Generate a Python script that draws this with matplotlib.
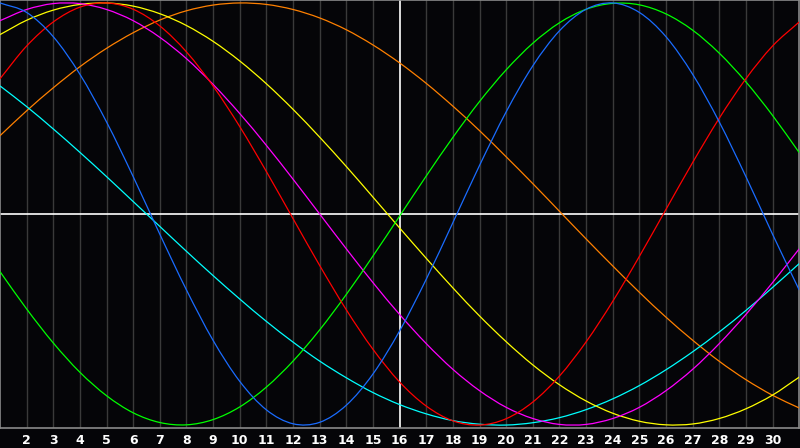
import matplotlib
matplotlib.use("Agg")
import matplotlib.pyplot as plt
from matplotlib.path import Path
from matplotlib.patches import PathPatch

days = list(range(1, 32))
tick_days = list(range(2, 31))
tick_labels = [str(d) for d in tick_days]

blue = [1.000, 0.955, 0.840, 0.662, 0.436, 0.177, -0.096, -0.360, -0.599, -0.793,
        -0.928, -0.994, -0.987, -0.906, -0.758, -0.554, -0.309, -0.041, 0.230, 0.484,
        0.702, 0.868, 0.970, 1.000, 0.955, 0.840, 0.662, 0.436, 0.177, -0.096, -0.360]
red = [0.641, 0.796, 0.910, 0.980, 1.000, 0.970, 0.891, 0.768, 0.606, 0.414,
       0.201, -0.022, -0.244, -0.454, -0.641, -0.796, -0.910, -0.980, -1.000, -0.970,
       -0.891, -0.768, -0.606, -0.414, -0.201, 0.022, 0.244, 0.454, 0.641, 0.796, 0.910]
green = [-0.273, -0.450, -0.611, -0.750, -0.861, -0.942, -0.988, -0.999, -0.974, -0.914,
         -0.820, -0.697, -0.549, -0.381, -0.199, -0.010, 0.180, 0.363, 0.533, 0.683,
         0.809, 0.906, 0.970, 0.998, 0.991, 0.948, 0.871, 0.762, 0.626, 0.467, 0.291]
yellow = [0.850, 0.918, 0.966, 0.993, 1.000, 0.985, 0.949, 0.893, 0.818, 0.725,
          0.617, 0.496, 0.364, 0.225, 0.080, -0.066, -0.210, -0.350, -0.483, -0.605,
          -0.715, -0.809, -0.886, -0.944, -0.982, -0.999, -0.995, -0.969, -0.923, -0.858, -0.773]
magenta = [0.916, 0.969, 0.997, 0.997, 0.969, 0.916, 0.837, 0.736, 0.614, 0.476,
           0.325, 0.165, 0.000, -0.165, -0.325, -0.476, -0.614, -0.736, -0.837, -0.916,
           -0.969, -0.997, -0.997, -0.969, -0.916, -0.837, -0.736, -0.614, -0.476, -0.325, -0.165]
cyan = [0.607, 0.509, 0.403, 0.292, 0.177, 0.059, -0.059, -0.177, -0.292, -0.403,
        -0.509, -0.607, -0.697, -0.776, -0.846, -0.903, -0.947, -0.979, -0.996, -1.000,
        -0.989, -0.965, -0.927, -0.876, -0.813, -0.738, -0.653, -0.559, -0.457, -0.348, -0.235]
orange = [0.371, 0.489, 0.598, 0.698, 0.785, 0.859, 0.919, 0.963, 0.990, 1.000,
          0.993, 0.969, 0.929, 0.873, 0.801, 0.716, 0.619, 0.511, 0.395, 0.271,
          0.144, 0.013, -0.118, -0.246, -0.371, -0.489, -0.598, -0.698, -0.785, -0.859, -0.919]

series = [
    (orange, "#ff8000"),
    (cyan, "#00ffff"),
    (yellow, "#ffff00"),
    (magenta, "#ff00ff"),
    (green, "#00ff00"),
    (red, "#ff0000"),
    (blue, "#1a6cff"),
]


def smooth_path(xs, ys):
    """Catmull-Rom curve through the data points, as cubic Bezier segments."""
    n = len(xs)
    ex = [2 * xs[0] - xs[1]] + list(xs) + [2 * xs[-1] - xs[-2]]
    ey = [2 * ys[0] - ys[1]] + list(ys) + [2 * ys[-1] - ys[-2]]
    verts = [(xs[0], ys[0])]
    codes = [Path.MOVETO]
    for i in range(1, n):
        x0, y0 = ex[i - 1], ey[i - 1]
        x1, y1 = ex[i], ey[i]
        x2, y2 = ex[i + 1], ey[i + 1]
        x3, y3 = ex[i + 2], ey[i + 2]
        c1 = (x1 + (x2 - x0) / 6.0, y1 + (y2 - y0) / 6.0)
        c2 = (x2 - (x3 - x1) / 6.0, y2 - (y3 - y1) / 6.0)
        verts += [c1, c2, (x2, y2)]
        codes += [Path.CURVE4] * 3
    return Path(verts, codes)


bg = "#050508"
fig = plt.figure(figsize=(8.0, 4.48), dpi=100, facecolor=bg)
ax = fig.add_axes([0.0, 20 / 448, 0.999, 428 / 448])
ax.set_facecolor(bg)

ax.set_xlim(1, 31)
ax.set_ylim(-1.014, 1.014)

for d in tick_days:
    if d == 16:
        continue
    ax.axvline(d, color="#3a3a3a", lw=1.0, zorder=1)
ax.axvline(16, color="#ffffff", lw=1.2, zorder=2)
ax.axhline(0, color="#ffffff", lw=1.2, zorder=2)

for vals, col in series:
    patch = PathPatch(smooth_path(days, vals), facecolor="none", edgecolor=col,
                      lw=0.9, zorder=3)
    ax.add_patch(patch)

for s in ax.spines.values():
    s.set_color("#8a8a8a")
    s.set_linewidth(1.2)

ax.set_yticks([])
ax.set_xticks(tick_days)
ax.set_xticklabels(tick_labels)
ax.tick_params(axis="x", length=0, pad=4.5, labelcolor="white", labelsize=9)
for lbl in ax.get_xticklabels():
    lbl.set_fontweight("bold")
    lbl.set_family("DejaVu Sans")

fig.savefig("out.png", dpi=100, facecolor=bg)
